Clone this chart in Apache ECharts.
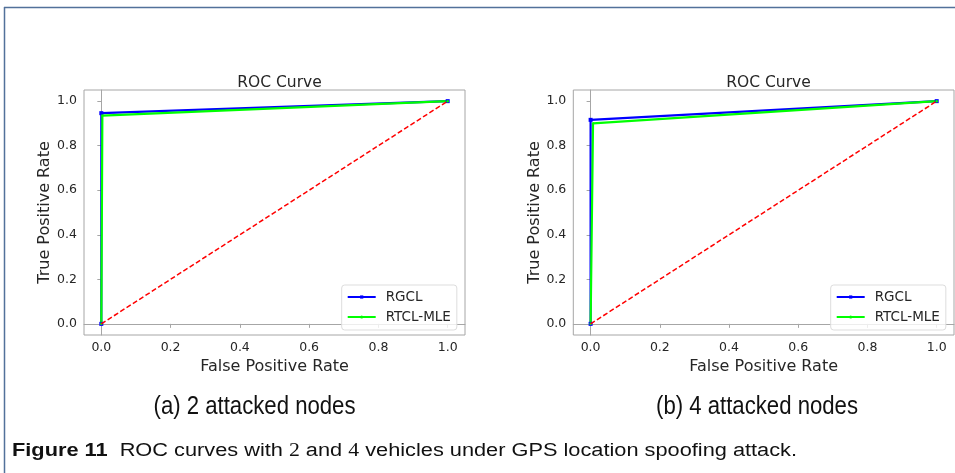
<!DOCTYPE html>
<html>
<head>
<meta charset="utf-8">
<script src="https://cdn.jsdelivr.net/npm/echarts@6/dist/echarts.min.js"></script>
<style>
html,body{margin:0;padding:0;background:#fff;}
#c{width:955px;height:473px;}
</style>
</head>
<body>
<div id="c"></div>
<script>
// ---- data ----
var tickValues = [0, 0.2, 0.4, 0.6, 0.8, 1.0];
// (a) 2 attacked nodes
var fprA_RGCL = [0, 0, 1];
var tprA_RGCL = [0, 0.946, 1];
var fprA_RTCL = [0, 0.003, 1];
var tprA_RTCL = [0, 0.935, 1];
// (b) 4 attacked nodes
var fprB_RGCL = [0, 0, 1];
var tprB_RGCL = [0, 0.916, 1];
var fprB_RTCL = [0, 0.007, 1];
var tprB_RTCL = [0, 0.900, 1];
// chance diagonal
var diagX = [0, 1];
var diagY = [0, 1];
var seriesNames = ['RGCL', 'RTCL-MLE'];
var subCaptions = ['(a) 2 attacked nodes', '(b) 4 attacked nodes'];
var capBold = 'Figure 11';
var capParts = ['ROC curves with ', '2', ' and ', '4', ' vehicles under GPS location spoofing attack.'];

function pairs(xs, ys) { return xs.map(function (x, i) { return [x, ys[i]]; }); }

// text measuring helper (for fitting caption widths to the figure)
var mctx = document.createElement('canvas').getContext('2d');
function tw(font, s) { mctx.font = font; return mctx.measureText(s).width; }

var chart = echarts.init(document.getElementById('c'), null, {renderer: 'canvas'});
var FONT = 'DejaVu Sans';
var FRAME = '#a6a6a6';
var TXT = '#262626';

function xAxis(gi) {
  return {
    gridIndex: gi, type: 'value', min: -0.05, max: 1.05,
    name: 'False Positive Rate', nameLocation: 'middle', nameGap: 14,
    nameTextStyle: {fontFamily: FONT, fontSize: 16, color: TXT, verticalAlign: 'top'},
    axisLine: {show: true, lineStyle: {color: FRAME, width: 1}},
    axisTick: {show: true, inside: false, length: 4, lineStyle: {color: FRAME}, customValues: tickValues},
    axisLabel: {fontFamily: FONT, fontSize: 12.5, color: TXT, margin: 6, customValues: tickValues,
      formatter: function (v) { return v.toFixed(1); }},
    splitLine: {show: false}
  };
}
function yAxis(gi) {
  return {
    gridIndex: gi, type: 'value', min: -0.05, max: 1.05,
    name: 'True Positive Rate', nameLocation: 'middle', nameGap: 23, nameRotate: 90,
    nameTextStyle: {fontFamily: FONT, fontSize: 16, color: TXT},
    axisLine: {show: true, lineStyle: {color: FRAME, width: 1}},
    axisTick: {show: true, inside: false, length: 4, lineStyle: {color: FRAME}, customValues: tickValues},
    axisLabel: {fontFamily: FONT, fontSize: 12.5, color: TXT, margin: 7, customValues: tickValues,
      formatter: function (v) { return v.toFixed(1); }},
    splitLine: {show: false}
  };
}
function series(gi, name, xs, ys, color, sym, symSize) {
  return {
    type: 'line', name: name, xAxisIndex: gi, yAxisIndex: gi,
    data: pairs(xs, ys), symbol: sym, symbolSize: symSize, showSymbol: true,
    lineStyle: {color: color, width: 2.2}, itemStyle: {color: color},
    animation: false, z: 3
  };
}
function diag(gi) {
  return {
    type: 'line', name: 'diag', xAxisIndex: gi, yAxisIndex: gi,
    data: pairs(diagX, diagY), symbol: 'none',
    lineStyle: {color: '#ff0000', width: 1.5, type: [5, 2.5]},
    animation: false, z: 4
  };
}
function legend(left) {
  return {
    data: seriesNames.map(function (n) { return {name: n}; }),
    left: left, top: 285, orient: 'vertical',
    itemWidth: 28, itemHeight: 4, itemGap: 4,
    padding: [4, 6, 5, 5],
    backgroundColor: 'rgba(255,255,255,0.8)', borderColor: '#dddddd', borderWidth: 1, borderRadius: 3,
    textStyle: {fontFamily: FONT, fontSize: 13.5, color: TXT, padding: [0, 0, 0, 5], lineHeight: 16},
    selectedMode: false
  };
}

// caption fitting
var subFont = '26px "Liberation Sans"';
var subW = tw(subFont, subCaptions[0]);
var subScale = 202 / subW;

var capSize = 18;
var capW = tw('bold ' + capSize + 'px "Liberation Sans"', capBold) + tw(capSize + 'px "Liberation Sans"', '  ') +
  tw(capSize + 'px "Liberation Sans"', capParts[0] + capParts[2] + capParts[4]) +
  tw(capSize + 'px "Liberation Serif"', capParts[1] + capParts[3]);
var capScale = 785 / capW;

var option = {
  animation: false,
  backgroundColor: '#ffffff',
  title: [
    {text: 'ROC Curve', left: 274.5, top: 70, textAlign: 'center',
     textStyle: {fontFamily: FONT, fontSize: 15.5, fontWeight: 'normal', color: TXT}},
    {text: 'ROC Curve', left: 763.5, top: 70, textAlign: 'center',
     textStyle: {fontFamily: FONT, fontSize: 15.5, fontWeight: 'normal', color: TXT}}
  ],
  grid: [
    {left: 84, top: 90, width: 381, height: 245, show: true, borderColor: FRAME, borderWidth: 1, backgroundColor: 'transparent', containLabel: false},
    {left: 573.3, top: 90, width: 380.7, height: 245, show: true, borderColor: FRAME, borderWidth: 1, backgroundColor: 'transparent', containLabel: false}
  ],
  xAxis: [xAxis(0), xAxis(1)],
  yAxis: [yAxis(0), yAxis(1)],
  legend: [legend(341.7), legend(830.7)],
  series: [
    series(0, seriesNames[0], fprA_RGCL, tprA_RGCL, '#0000ff', 'rect', 4),
    series(0, seriesNames[1], fprA_RTCL, tprA_RTCL, '#00ff00', 'circle', 2.5),
    diag(0),
    series(1, seriesNames[0], fprB_RGCL, tprB_RGCL, '#0000ff', 'rect', 4),
    series(1, seriesNames[1], fprB_RTCL, tprB_RTCL, '#00ff00', 'circle', 2.5),
    diag(1)
  ],
  graphic: [
    {type: 'line', shape: {x1: 4, y1: 7.5, x2: 955, y2: 7.5}, style: {stroke: '#52719a', lineWidth: 1.5}, silent: true},
    {type: 'line', shape: {x1: 4.5, y1: 7, x2: 4.5, y2: 473}, style: {stroke: '#52719a', lineWidth: 1.5}, silent: true},
    {type: 'text', x: 254.5, y: 407, scaleX: subScale, style: {text: subCaptions[0], font: subFont, fill: '#111', textAlign: 'center', textVerticalAlign: 'middle'}, silent: true},
    {type: 'text', x: 757, y: 407, scaleX: subScale, style: {text: subCaptions[1], font: subFont, fill: '#111', textAlign: 'center', textVerticalAlign: 'middle'}, silent: true},
    {type: 'text', x: 12, y: 451, scaleX: capScale, silent: true,
     style: {
       text: '{b|' + capBold + '}  ' + capParts[0] + '{m|' + capParts[1] + '}' + capParts[2] + '{m|' + capParts[3] + '}' + capParts[4],
       fontFamily: 'Liberation Sans', fontSize: capSize, fill: '#111', textVerticalAlign: 'middle',
       rich: {
         b: {fontFamily: 'Liberation Sans', fontSize: capSize, fontWeight: 'bold', fill: '#111'},
         m: {fontFamily: 'Liberation Serif', fontSize: capSize, fill: '#111'}
       }
     }}
  ]
};
chart.setOption(option);
</script>
</body>
</html>
